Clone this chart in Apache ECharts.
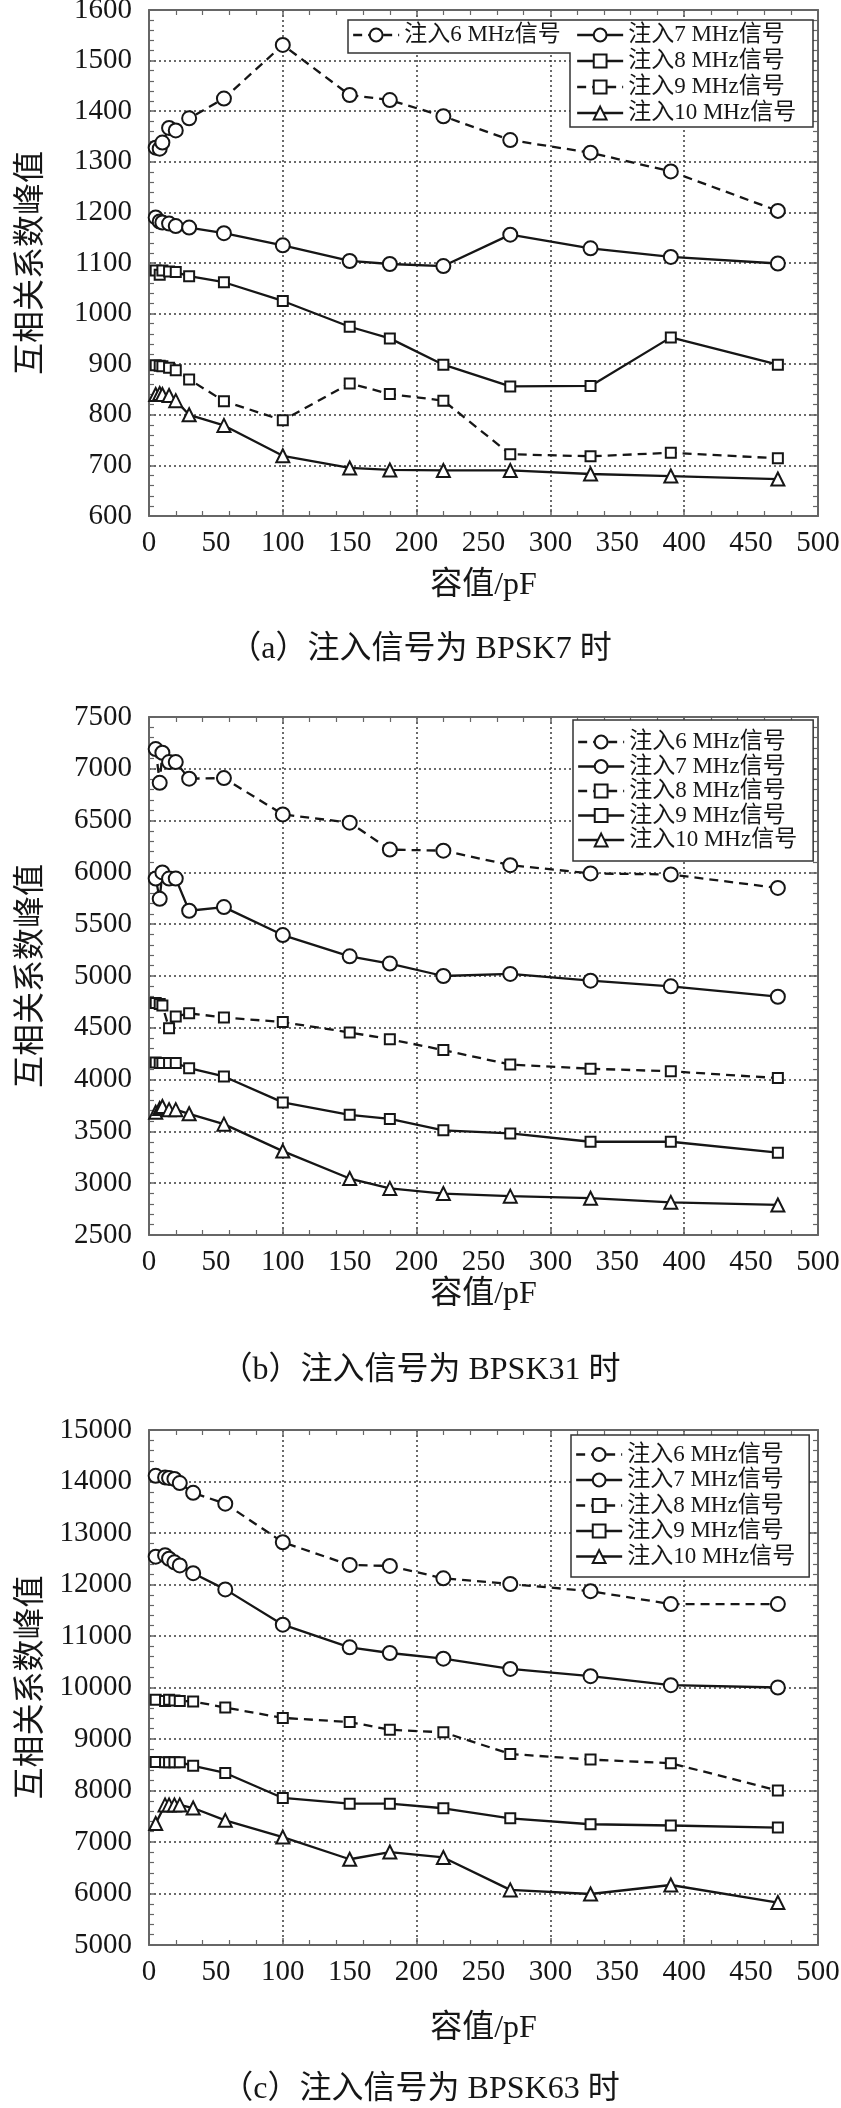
<!DOCTYPE html>
<html><head><meta charset="utf-8">
<script src="https://cdn.jsdelivr.net/npm/echarts@6/dist/echarts.min.js"></script>
<style>html,body{margin:0;padding:0;background:#fff}#c{width:841px;height:2108px}</style>
</head><body><div id="c"></div>
<script>
// ---- data ----
const seriesNames = ['注入6 MHz信号', '注入7 MHz信号', '注入8 MHz信号', '注入9 MHz信号', '注入10 MHz信号'];
const xAB = [5, 8, 10, 15, 20, 30, 56, 100, 150, 180, 220, 270, 330, 390, 470];
const xC  = [5, 12, 15, 19, 23, 33, 57, 100, 150, 180, 220, 270, 330, 390, 470];

const a6  = [1328, 1326, 1338, 1367, 1362, 1386, 1425, 1531, 1432, 1422, 1390, 1343, 1318, 1281, 1203];
const a7  = [1190, 1182, 1180, 1178, 1173, 1170, 1159, 1135, 1104, 1098, 1094, 1156, 1129, 1112, 1099];
const a8  = [1085, 1077, 1085, 1083, 1082, 1074, 1062, 1025, 974, 951, 899, 856, 857, 953, 899];
const a9  = [898, 897, 896, 893, 888, 870, 827, 789, 862, 841, 828, 722, 718, 725, 714];
const a10 = [840, 842, 840, 838, 828, 800, 779, 719, 695, 691, 690, 690, 683, 679, 673];

const b6  = [7190, 6865, 7155, 7065, 7065, 6905, 6910, 6560, 6480, 6220, 6210, 6070, 5990, 5980, 5850];
const b7  = [5940, 5745, 6000, 5940, 5940, 5630, 5665, 5395, 5190, 5120, 5000, 5020, 4955, 4900, 4800];
const b8  = [4740, 4730, 4715, 4495, 4610, 4640, 4600, 4555, 4455, 4390, 4285, 4145, 4105, 4080, 4015];
const b9  = [4165, 4160, 4160, 4160, 4160, 4110, 4030, 3780, 3660, 3620, 3510, 3480, 3400, 3400, 3295];
const b10 = [3685, 3720, 3740, 3710, 3710, 3670, 3570, 3310, 3045, 2950, 2900, 2875, 2855, 2815, 2790];

const c6  = [14110, 14080, 14070, 14050, 13970, 13780, 13570, 12820, 12380, 12360, 12120, 12010, 11870, 11620, 11620];
const c7  = [12540, 12570, 12500, 12430, 12370, 12220, 11905, 11220, 10780, 10670, 10560, 10360, 10220, 10045, 10000];
const c8  = [9760, 9740, 9760, 9750, 9740, 9730, 9610, 9410, 9330, 9180, 9130, 8710, 8600, 8530, 8000];
const c9  = [8555, 8550, 8550, 8550, 8550, 8480, 8340, 7855, 7745, 7745, 7655, 7460, 7345, 7320, 7280];
const c10 = [7360, 7720, 7720, 7720, 7720, 7660, 7420, 7095, 6665, 6805, 6700, 6070, 5990, 6165, 5825];

const captions = ['（a）注入信号为 BPSK7 时', '（b）注入信号为 BPSK31 时', '（c）注入信号为 BPSK63 时'];
const xTitle = '容值/pF';
const yTitle = '互相关系数峰值';

// ---- layout / style ----
const FONT = "'Liberation Serif', 'Noto Sans CJK SC', serif";
const CJK = "'Noto Sans CJK SC', sans-serif";
const INK = '#161616';
const AX = '#666';
const DASH = [9, 6];
const symbols = ['emptyCircle', 'emptyCircle', 'emptyRect', 'emptyRect', 'emptyTriangle'];
const symSizes = [14, 14, 10, 10, 13];
const plain = v => String(v);

const panels = [
  { top: 10, height: 506, min: 600, max: 1600, interval: 100, x: xAB, ys: [a6, a7, a8, a9, a10],
    dashed: [true, false, false, true, false], xGap: 54, capTop: 629 },
  { top: 717, height: 518, min: 2500, max: 7500, interval: 500, x: xAB, ys: [b6, b7, b8, b9, b10],
    dashed: [true, false, true, false, false], xGap: 44, capTop: 1350 },
  { top: 1430, height: 515, min: 5000, max: 15000, interval: 1000, x: xC, ys: [c6, c7, c8, c9, c10],
    dashed: [true, false, true, false, false], xGap: 68, capTop: 2069 }
];

const grids = [], xAxes = [], yAxes = [], series = [], titles = [];
const tickStyle = { color: AX, width: 1.5 };

panels.forEach((p, i) => {
  grids.push({ left: 149, right: 23, top: p.top, height: p.height, outerBoundsMode: 'none', containLabel: false });
  const baseX = {
    gridIndex: i, type: 'value', min: 0, max: 500, interval: 100,
    axisLine: { show: true, onZero: false, lineStyle: { color: AX, width: 2 } },
    axisTick: { show: true, inside: true, length: 7, lineStyle: tickStyle },
    minorTick: { show: true, splitNumber: 5, length: 5, lineStyle: { color: AX, width: 1.2 } },
    axisLabel: { show: false }
  };
  xAxes.push(Object.assign({}, baseX, { position: 'bottom',
    splitLine: { show: true, lineStyle: { type: [2, 3], color: '#3a3a3a', width: 1.5 } } }));
  xAxes.push(Object.assign({}, baseX, { position: 'top', splitLine: { show: false } }));
  xAxes.push({
    gridIndex: i, type: 'value', min: 0, max: 500, interval: 50, position: 'bottom',
    axisLine: { show: false, onZero: false }, axisTick: { show: false }, splitLine: { show: false },
    axisLabel: { show: true, margin: 13, fontSize: 29, fontFamily: FONT, color: INK, formatter: plain },
    name: xTitle, nameLocation: 'middle', nameGap: p.xGap,
    nameTextStyle: { fontSize: 32, fontFamily: FONT, color: INK }
  });
  const baseY = {
    gridIndex: i, type: 'value', min: p.min, max: p.max, interval: p.interval,
    axisLine: { show: true, onZero: false, lineStyle: { color: AX, width: 2 } },
    axisTick: { show: true, inside: true, length: 7, lineStyle: tickStyle },
    minorTick: { show: true, splitNumber: 5, length: 5, lineStyle: { color: AX, width: 1.2 } }
  };
  yAxes.push(Object.assign({}, baseY, { position: 'left',
    axisLabel: { show: true, margin: 17, fontSize: 29, fontFamily: FONT, color: INK, formatter: plain },
    splitLine: { show: true, lineStyle: { type: [2, 3], color: '#3a3a3a', width: 1.5 } },
    name: yTitle, nameLocation: 'middle', nameGap: 105, nameRotate: 90,
    nameTextStyle: { fontSize: 32, fontFamily: CJK, color: INK } }));
  yAxes.push(Object.assign({}, baseY, { position: 'right', axisLabel: { show: false }, splitLine: { show: false } }));

  p.ys.forEach((ys, k) => {
    series.push({
      type: 'line', name: seriesNames[k], xAxisIndex: 3 * i, yAxisIndex: 2 * i,
      data: p.x.map((xv, j) => [xv, ys[j]]),
      symbol: symbols[k], symbolSize: symSizes[k], showAllSymbol: true,
      lineStyle: { color: INK, width: 2.3, type: p.dashed[k] ? DASH : 'solid' },
      itemStyle: { color: INK, borderColor: INK, borderWidth: 2.3 },
      animation: false
    });
  });
  titles.push({ text: captions[i], left: 'center', top: p.capTop,
    textStyle: { fontSize: 32, fontWeight: 'normal', fontFamily: FONT, color: INK } });
});

function legendItems(idxs, dashed) {
  return idxs.map(k => ({ name: seriesNames[k], lineStyle: { type: dashed[k] ? DASH : 'solid', width: 2.3, color: INK } }));
}
const legendText = { fontSize: 23, fontFamily: FONT, color: INK };
const legends = [
  { orient: 'horizontal', left: 352, top: 22, padding: 0, itemWidth: 46, itemHeight: 16, itemGap: 0,
    selectedMode: false, textStyle: Object.assign({ lineHeight: 26 }, legendText),
    data: legendItems([0], panels[0].dashed) },
  { orient: 'vertical', left: 576, top: 22, padding: 0, itemWidth: 46, itemHeight: 16, itemGap: 0,
    selectedMode: false, textStyle: Object.assign({ lineHeight: 26 }, legendText),
    data: legendItems([1, 2, 3, 4], panels[0].dashed) },
  { orient: 'vertical', left: 573, top: 720, padding: [10, 16, 9, 4], itemWidth: 46, itemHeight: 16, itemGap: 0.5,
    selectedMode: false, borderColor: '#333', borderWidth: 1.5, backgroundColor: '#fff',
    textStyle: Object.assign({ lineHeight: 24 }, legendText),
    data: legendItems([0, 1, 2, 3, 4], panels[1].dashed) },
  { orient: 'vertical', left: 571, top: 1435, padding: [7, 14, 8, 4], itemWidth: 46, itemHeight: 16, itemGap: 0.5,
    selectedMode: false, borderColor: '#333', borderWidth: 1.5, backgroundColor: '#fff',
    textStyle: Object.assign({ lineHeight: 25 }, legendText),
    data: legendItems([0, 1, 2, 3, 4], panels[2].dashed) }
];

const chart = echarts.init(document.getElementById('c'), null, { renderer: 'canvas' });
chart.setOption({
  animation: false,
  backgroundColor: '#fff',
  title: titles,
  grid: grids,
  xAxis: xAxes,
  yAxis: yAxes,
  legend: legends,
  graphic: [{
    type: 'polygon', z: 3,
    shape: { points: [[348, 20], [813, 20], [813, 127], [570, 127], [570, 53], [348, 53]] },
    style: { fill: '#fff', stroke: '#333', lineWidth: 1.5 }
  }],
  series: series
});
</script>
</body></html>
